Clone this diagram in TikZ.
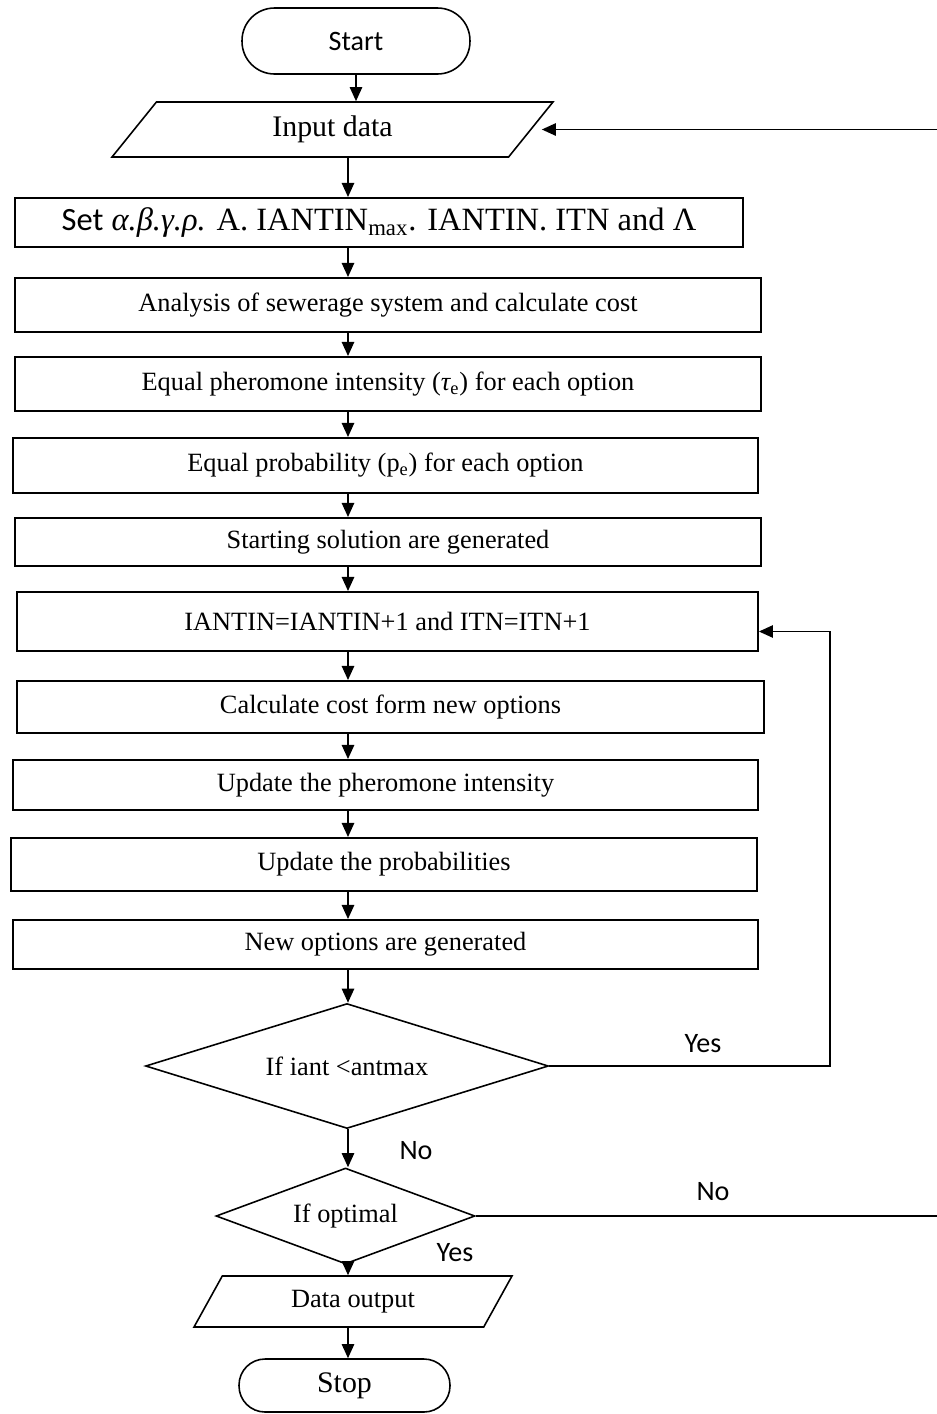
\documentclass[tikz,border=0pt]{standalone}
\usepackage{fontspec}
\setmainfont{Liberation Serif}
\newfontfamily\calibri{Carlito}
\usetikzlibrary{shapes.geometric,arrows.meta,calc}

\begin{document}
\begin{tikzpicture}[
    x=0.02cm, y=-0.02cm,
    font=\fontsize{15}{18}\selectfont,
    box/.style={rectangle, draw, line width=1.1pt, inner sep=0pt},
    term/.style={rectangle, draw, line width=0.9pt, inner sep=0pt},
    io/.style={trapezium, trapezium stretches body=true, draw, line width=0.9pt, inner sep=0pt},
    decision/.style={diamond, draw, line width=0.9pt, inner sep=0pt},
    lbl/.style={font=\fontsize{16}{19}\calibri},
    arr/.style={-{Triangle[length=8pt,width=7pt]}, line width=1pt}
]
\useasboundingbox (0,0) rectangle (937,1414);

\node [term, minimum width=4.56cm, minimum height=1.32cm, rounded corners=0.65cm, font=\fontsize{16}{19}\calibri] (start) at (356,41) {Start};
\node [io, trapezium left angle=31.4, trapezium right angle=148.6, minimum width=8.82cm, minimum height=1.1cm, font=\fontsize{17}{20}\selectfont] (input) at (332.5,129.5) {Input data};

\node [box, minimum width=14.56cm, minimum height=0.98cm, font=\fontsize{18.5}{22}\selectfont] (set) at (379,222.5) {{\calibri Set} {\itshape α.β.γ.ρ.} A. IANTIN\textsubscript{max}. IANTIN. ITN and Λ};
\node [box, minimum width=14.92cm, minimum height=1.08cm] (anal) at (388,305) {Analysis of sewerage system and calculate cost};
\node [box, minimum width=14.92cm, minimum height=1.08cm] (eqph) at (388,384) {Equal pheromone intensity ({\itshape τ}\textsubscript{e}) for each option};
\node [box, minimum width=14.9cm, minimum height=1.1cm] (eqpr) at (385.5,465.5) {Equal probability (p\textsubscript{e}) for each option};
\node [box, minimum width=14.92cm, minimum height=0.96cm] (strt) at (388,542) {Starting solution are generated};
\node [box, minimum width=14.82cm, minimum height=1.18cm] (iant) at (387.5,621.5) {IANTIN=IANTIN+1 and ITN=ITN+1};
\node [box, minimum width=14.94cm, minimum height=1.04cm] (calc) at (390.5,707) {Calculate cost form new options};
\node [box, minimum width=14.9cm, minimum height=1cm] (updph) at (385.5,785) {Update the pheromone intensity};
\node [box, minimum width=14.92cm, minimum height=1.06cm] (updpr) at (384,864.5) {Update the probabilities};
\node [box, minimum width=14.9cm, minimum height=0.98cm] (newop) at (385.5,944.5) {New options are generated};

\node [decision, aspect=3.22, minimum width=8.06cm, minimum height=2.5cm] (dec1) at (347,1066) {If iant <antmax};
\node [decision, aspect=2.7, minimum width=5.18cm, minimum height=1.92cm] (dec2) at (345.5,1216) {If optimal};
\node [io, trapezium left angle=39, trapezium right angle=141, minimum width=6.36cm, minimum height=1.02cm] (outp) at (353,1301.5) {Data output};
\node [term, minimum width=4.22cm, minimum height=1.06cm, rounded corners=0.52cm, font=\fontsize{17}{20}\selectfont] (stop) at (344.5,1385.5) {Stop};

\node [lbl] (yes1) at (703,1044) {Yes};
\node [lbl] (no1) at (416,1151) {No};
\node [lbl] (no2) at (713,1192) {No};
\node [lbl] (yes2) at (455,1253) {Yes};

\coordinate (spine) at (348,0);
\coordinate (loopx) at (830,0);
\coordinate (rim) at (945,0);

\draw [arr] (start.south) -- (start.south |- input.north);
\foreach \a/\b in {input/set, set/anal, anal/eqph, eqph/eqpr, eqpr/strt, strt/iant, iant/calc, calc/updph, updph/updpr, updpr/newop, newop/dec1, dec1/dec2, dec2/outp, outp/stop}
  \draw [arr] (\a.south -| spine) -- (\b.north -| spine);

\draw [arr] (dec1.east) -- (dec1.east -| loopx) |- ([yshift=-0.2cm]iant.east);
\begin{scope}
  \clip (0,0) rectangle (937,1414);
  \draw [arr, shorten >=0.2cm] (dec2.east) -- (dec2.east -| rim) |- (input.east);
\end{scope}

\end{tikzpicture}
\end{document}
